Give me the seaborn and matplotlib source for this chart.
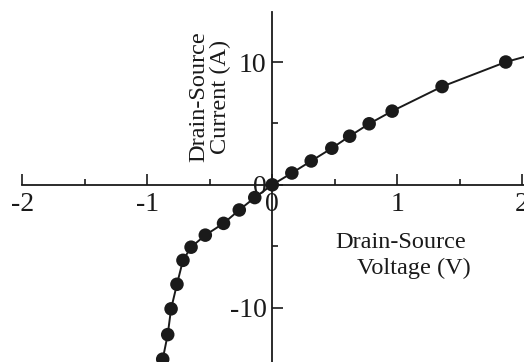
import matplotlib
matplotlib.use("Agg")
import matplotlib.pyplot as plt
import seaborn as sns
import pandas as pd
from matplotlib.ticker import FixedLocator

sns.set_style("white")
plt.rcParams['font.family'] = ['Liberation Serif', 'DejaVu Serif']

# measured points (V, A)
volt = [-0.877, -0.837, -0.81, -0.763, -0.715, -0.65, -0.536, -0.39, -0.264, -0.14,
        0.0, 0.157, 0.312, 0.477, 0.62, 0.776, 0.96, 1.36, 1.87]
curr = [-14.2, -12.2, -10.1, -8.1, -6.15, -5.08, -4.1, -3.14, -2.05, -1.04,
        0.0, 0.96, 1.94, 2.98, 3.96, 4.97, 6.0, 8.0, 10.0]
# curve continues beyond the plotted points to the frame edges
curve_start = (-0.888, -14.8)
curve_end = (2.03, 10.45)

xticks = [-2, -1, 0, 1, 2]
yticks = [-10, 0, 10]

df = pd.DataFrame({"V": volt, "I": curr})
curve = pd.DataFrame({"V": [curve_start[0]] + volt + [curve_end[0]],
                      "I": [curve_start[1]] + curr + [curve_end[1]]})

fig = plt.figure(figsize=(5.24, 3.62), dpi=100)
ax = fig.add_axes([0, 0, 1, 1])
ax.set_facecolor("none")

sns.lineplot(data=curve, x="V", y="I", sort=False, color="#1a1a1a", lw=1.4, ax=ax)
sns.scatterplot(data=df, x="V", y="I", color="#1a1a1a", s=95, edgecolor="none", ax=ax, zorder=5)

ax.set_xlim(-2.18, 2.016)
ax.set_ylim(-14.43, 15.05)

for s in ["top", "right"]:
    ax.spines[s].set_visible(False)
ax.spines["left"].set_position(("data", 0))
ax.spines["bottom"].set_position(("data", 0))
ax.spines["left"].set_bounds(-14.43, 14.1)
ax.spines["bottom"].set_bounds(-2, 2.016)
for s in ["left", "bottom"]:
    ax.spines[s].set_color("#1a1a1a")
    ax.spines[s].set_linewidth(1.3)

ax.xaxis.set_major_locator(FixedLocator(xticks))
ax.xaxis.set_minor_locator(FixedLocator([-1.5, -0.5, 0.5, 1.5]))
ax.yaxis.set_major_locator(FixedLocator(yticks))
ax.yaxis.set_minor_locator(FixedLocator([-5, 5]))
ax.set_xticklabels([str(t) for t in xticks])
ax.set_yticklabels([str(t) for t in yticks])

ax.tick_params(axis="x", which="major", direction="in", length=8, width=1.2,
               labelsize=20, pad=5, color="#1a1a1a", labelcolor="#1a1a1a", bottom=True)
ax.tick_params(axis="x", which="minor", direction="in", length=4.5, width=1.2,
               color="#1a1a1a", bottom=True)
ax.tick_params(axis="y", which="major", direction="in", length=8, width=1.2,
               labelsize=20, pad=4, color="#1a1a1a", labelcolor="#1a1a1a", left=True)
ax.tick_params(axis="y", which="minor", direction="in", length=4.5, width=1.2,
               color="#1a1a1a", left=True)

ax.set_xlabel("")
ax.set_ylabel("")

fig.text(210 / 524, 1 - 97 / 362, "Drain-Source\nCurrent (A)", rotation=90,
         ha="center", va="center", fontsize=17.5, linespacing=1.05, color="#1a1a1a")
fig.text(401 / 524, 1 - 242 / 362, "Drain-Source", ha="center", va="center",
         fontsize=17.5, color="#1a1a1a")
fig.text(414 / 524, 1 - 268 / 362, "Voltage (V)", ha="center", va="center",
         fontsize=17.5, color="#1a1a1a")

fig.savefig("out.png", dpi=100)
